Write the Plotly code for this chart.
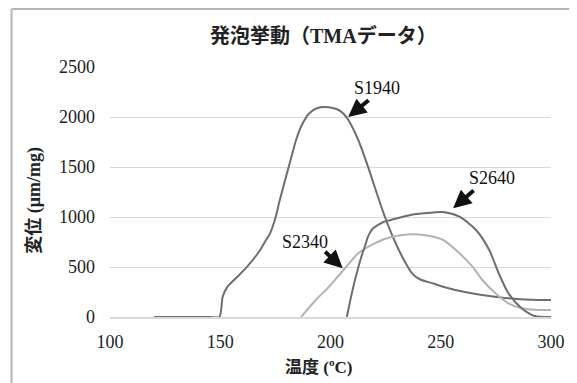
import plotly.graph_objects as go

# ---- data ----
s1940_t = [120, 145, 149.6, 151.1, 153.3, 157.8, 162.2, 168.1, 170.5, 172.6, 175, 177, 179.3, 181.5,
           184.4, 187, 190.4, 194, 197.8, 201, 203.7, 206, 208.1, 212.6, 217, 221.5, 225.2, 228.9,
           233.3, 237, 240.7, 246.7, 251, 261.5, 272, 280.7, 291, 300]
s1940_v = [0, 0, 0, 203, 303, 403, 503, 670, 760, 837, 990, 1170, 1360, 1537,
           1770, 1920, 2037, 2090, 2100, 2090, 2070, 2030, 1970, 1770, 1503, 1203, 970, 770,
           570, 437, 375, 335, 303, 247, 210, 187, 172, 170]

s2340_t = [186.7, 193.3, 199.3, 205.9, 212.6, 220, 227.4, 236.3, 242.2, 251.1, 258.5, 264.4,
           268.9, 274.8, 280.7, 286.7, 294, 300]
s2340_v = [0, 170, 303, 470, 637, 737, 800, 827, 820, 770, 637, 503,
           370, 237, 137, 87, 70, 70]

s2640_t = [207.4, 209.3, 211.1, 214, 215.8, 217, 219, 221.5, 224, 227.4, 236.3, 242.2, 251.1,
           258.5, 266, 272, 276.3, 280.7, 286.7, 292.6, 300]
s2640_v = [0, 200, 370, 603, 720, 803, 880, 920, 950, 970, 1020, 1037, 1050,
           1003, 870, 670, 437, 237, 87, 10, 0]

x_ticks = [100, 150, 200, 250, 300]
y_ticks = [0, 500, 1000, 1500, 2000, 2500]

labels = ["S1940", "S2340", "S2640"]
label_pos = [(221.3, 2290), (188.4, 753), (273.3, 1387)]
arrow_heads = [(208, 2000), (205.5, 487), (255.6, 1087)]
arrow_offsets = [(22, -18), (-19, -18), (22, -19)]

title_text = "<b>発泡挙動（TMAデータ）</b>"
x_title = "<b>温度 (ºC)</b>"
y_title = "<b>変位 (μm/mg)</b>"

FONT = "Liberation Serif, Times New Roman, Noto Sans CJK JP, serif"
DARK = "#6e6e6e"
LIGHT = "#b3b3b3"

fig = go.Figure()
fig.add_trace(go.Scatter(x=s1940_t, y=s1940_v, mode="lines",
                         line=dict(color=DARK, width=2, shape="spline", smoothing=0.7), name="S1940"))
fig.add_trace(go.Scatter(x=s2340_t, y=s2340_v, mode="lines",
                         line=dict(color=LIGHT, width=2, shape="spline", smoothing=0.7), name="S2340"))
fig.add_trace(go.Scatter(x=s2640_t, y=s2640_v, mode="lines",
                         line=dict(color=DARK, width=2, shape="spline", smoothing=0.7), name="S2640"))

annotations = []
for lab, (tx, ty) in zip(labels, label_pos):
    annotations.append(dict(x=tx, y=ty, xref="x", yref="y", text=lab, showarrow=False,
                            font=dict(family=FONT, size=18, color="#111111"),
                            xanchor="center", yanchor="middle"))
for (hx, hy), (ax, ay) in zip(arrow_heads, arrow_offsets):
    annotations.append(dict(x=hx, y=hy, xref="x", yref="y", text="", showarrow=True,
                            ax=ax, ay=ay, arrowhead=2, arrowsize=0.9, arrowwidth=4,
                            arrowcolor="#111111", standoff=0, startstandoff=0))

annotations.append(dict(x=0.484, y=1.128, xref="paper", yref="paper", text=title_text,
                        showarrow=False, xanchor="center", yanchor="middle",
                        font=dict(family=FONT, size=20, color="#222222")))
annotations.append(dict(x=0.4733, y=-0.2, xref="paper", yref="paper", text=x_title,
                        showarrow=False, xanchor="center", yanchor="middle",
                        font=dict(family=FONT, size=17, color="#222222")))
annotations.append(dict(x=-0.173, y=0.468, xref="paper", yref="paper", text=y_title,
                        showarrow=False, xanchor="center", yanchor="middle", textangle=-90,
                        font=dict(family=FONT, size=18, color="#222222")))

shapes = [
    dict(type="line", xref="paper", yref="paper", x0=-0.2233, x1=-0.2233, y0=-0.3, y1=1.232,
         line=dict(color="#b5b5b5", width=2)),
    dict(type="line", xref="paper", yref="paper", x0=-0.2233, x1=1.05, y0=1.232, y1=1.232,
         line=dict(color="#b5b5b5", width=2)),
]

# the page adds an 8px body margin, so the figure is 8px smaller and margins shifted
fig.update_layout(
    width=569, height=375,
    margin=dict(l=102, r=17, t=59, b=66),
    paper_bgcolor="white", plot_bgcolor="white",
    showlegend=False,
    annotations=annotations,
    shapes=shapes,
    font=dict(family=FONT, size=18, color="#222222"),
)
fig.update_xaxes(range=[100, 300], tickvals=x_ticks, showgrid=False, zeroline=False,
                 showline=True, linecolor="#d9d9d9", linewidth=1.5,
                 ticks="", ticklabelstandoff=8,
                 tickfont=dict(family=FONT, size=18, color="#222222"))
fig.update_yaxes(range=[0, 2500], tickvals=y_ticks, showgrid=True, gridcolor="#d9d9d9",
                 gridwidth=1.2, zeroline=False, showline=False, ticks="", ticklabelstandoff=14,
                 tickfont=dict(family=FONT, size=18, color="#222222"))

fig.write_html("out.html")
